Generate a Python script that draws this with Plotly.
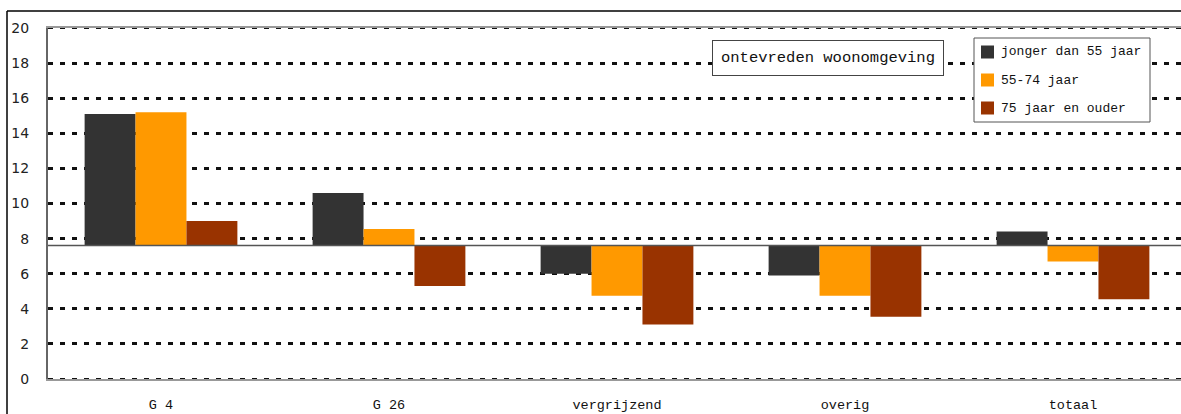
import plotly.graph_objects as go

# Satisfaction index per area type, bars drawn relative to a common base level
categories = ["G 4", "G 26", "vergrijzend", "overig", "totaal"]
series_names = ["jonger dan 55 jaar", "55-74 jaar", "75 jaar en ouder"]
young = [15.1, 10.6, 6.0, 5.9, 8.4]
middle = [15.2, 8.55, 4.75, 4.75, 6.7]
old = [9.0, 5.3, 3.1, 3.55, 4.55]
base_level = 7.6
y_ticks = [0, 2, 4, 6, 8, 10, 12, 14, 16, 18, 20]
title_text = "ontevreden woonomgeving"

colors = ["#333333", "#FF9900", "#993300"]
mono = "Liberation Mono"

W, H = 1181, 414
L, T, B = 48, 28, 35
plot_w = W - L
plot_h = H - T - B


def px(x):
    return (x - L) / plot_w


def py(y):
    return (H - B - y) / plot_h


fig = go.Figure()
for name, vals, col in zip(series_names, [young, middle, old], colors):
    fig.add_trace(go.Bar(
        x=list(range(len(categories))),
        y=[v - base_level for v in vals],
        base=base_level,
        name=name,
        marker=dict(color=col, line=dict(width=0)),
        showlegend=False,
        hoverinfo="skip",
    ))

# x range chosen so the plot runs off the right edge of the page
x_min = -113 / 228
x_max = x_min + plot_w / 228

shapes = [
    # level line the bars grow from
    dict(type="line", xref="paper", yref="y", x0=0, x1=1,
         y0=base_level, y1=base_level, line=dict(color="#555555", width=1.5),
         layer="above"),
    # outer frame
    dict(type="line", xref="paper", yref="paper", x0=px(7), x1=px(W + 5),
         y0=py(11), y1=py(11), line=dict(color="#000000", width=1.5)),
    dict(type="line", xref="paper", yref="paper", x0=px(7), x1=px(7),
         y0=py(11), y1=py(H + 5), line=dict(color="#000000", width=1.5)),
    # legend box
    dict(type="rect", xref="paper", yref="paper", x0=px(974), x1=px(1150),
         y0=py(38), y1=py(122), line=dict(color="#555555", width=1),
         fillcolor="white", layer="above"),
]
# dotted grid also along the top and bottom edges of the plot
for edge in (y_ticks[0], y_ticks[-1]):
    shapes.append(dict(type="line", xref="paper", yref="y", x0=0, x1=1,
                       y0=edge, y1=edge, layer="above",
                       line=dict(color="#111111", width=2, dash="5px,7px")))

annotations = [
    dict(text=title_text, xref="paper", yref="paper", x=px(828), y=py(58),
         xanchor="center", yanchor="middle", showarrow=False,
         font=dict(family=mono, size=15.5, color="#111111"),
         bordercolor="#444444", borderwidth=1, borderpad=8, bgcolor="white"),
]
for i, (name, col) in enumerate(zip(series_names, colors)):
    cy = 52 + 28 * i
    shapes.append(dict(type="rect", xref="paper", yref="paper",
                       x0=px(981), x1=px(994), y0=py(cy - 6.5), y1=py(cy + 6.5),
                       fillcolor=col, line=dict(width=0), layer="above"))
    annotations.append(dict(text=name, xref="paper", yref="paper",
                            x=px(999), y=py(cy), xanchor="left", yanchor="middle",
                            showarrow=False,
                            font=dict(family=mono, size=13, color="#111111")))

fig.update_layout(
    width=W, height=H,
    margin=dict(l=L, r=0, t=T, b=B, pad=0),
    paper_bgcolor="white", plot_bgcolor="white",
    barmode="group", bargap=0.33, bargroupgap=0,
    shapes=shapes, annotations=annotations,
    showlegend=False,
)
fig.update_xaxes(
    range=[x_min, x_max],
    tickmode="array", tickvals=list(range(len(categories))), ticktext=categories,
    tickfont=dict(family=mono, size=13.5, color="#111111"),
    ticklabelstandoff=12,
    showgrid=False, zeroline=False,
    showline=True, linecolor="#999999", linewidth=2, mirror=True,
)
fig.update_yaxes(
    range=[0, 20], tickvals=y_ticks,
    tickfont=dict(family="DejaVu Sans", size=14, color="#222222"),
    ticklabelstandoff=14,
    showgrid=True, gridcolor="#111111", gridwidth=2.5, griddash="5px,7px",
    zeroline=False,
    showline=True, linecolor="#666666", linewidth=2,
)

fig.write_html("out.html")
